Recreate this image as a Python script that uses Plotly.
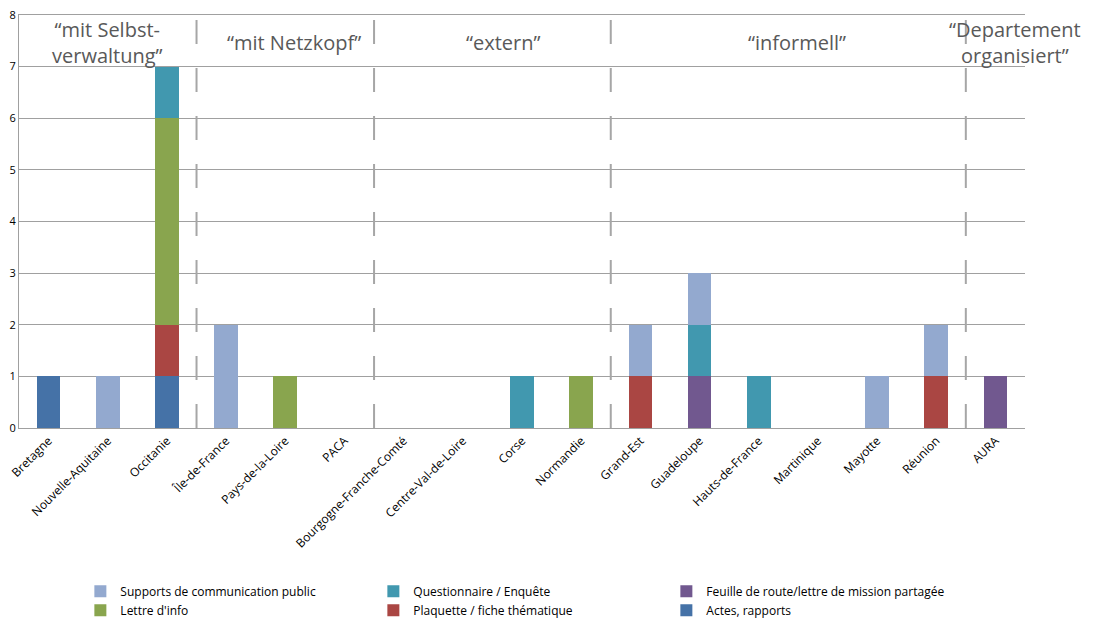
import plotly.graph_objects as go

regions = ["Bretagne", "Nouvelle-Aquitaine", "Occitanie", "Île-de-France", "Pays-de-la-Loire",
           "PACA", "Bourgogne-Franche-Comté", "Centre-Val-de-Loire", "Corse", "Normandie",
           "Grand-Est", "Guadeloupe", "Hauts-de-France", "Martinique", "Mayotte", "Réunion", "AURA"]

# series, bottom of the stack first
actes = [1, 0, 1, 0, 0, 0, 0, 0, 0, 0, 0, 0, 0, 0, 0, 0, 0]
plaquette = [0, 0, 1, 0, 0, 0, 0, 0, 0, 0, 1, 0, 0, 0, 0, 1, 0]
lettre = [0, 0, 4, 0, 1, 0, 0, 0, 0, 1, 0, 0, 0, 0, 0, 0, 0]
feuille = [0, 0, 0, 0, 0, 0, 0, 0, 0, 0, 0, 1, 0, 0, 0, 0, 1]
questionnaire = [0, 0, 1, 0, 0, 0, 0, 0, 1, 0, 0, 1, 1, 0, 0, 0, 0]
supports = [0, 1, 0, 2, 0, 0, 0, 0, 0, 0, 1, 1, 0, 0, 1, 1, 0]

group_names = ["“mit Selbst-<br>verwaltung”", "“mit Netzkopf”", "“extern”",
               "“informell”", "“Departement<br>organisiert”"]
group_sizes = [3, 3, 4, 6, 1]

series = [
    ("Actes, rapports", actes, "#4572A7"),
    ("Plaquette / fiche thématique", plaquette, "#AA4643"),
    ("Lettre d'info", lettre, "#89A54E"),
    ("Feuille de route/lettre de mission partagée", feuille, "#71588F"),
    ("Questionnaire / Enquête", questionnaire, "#4198AF"),
    ("Supports de communication public", supports, "#93A9CF"),
]

fig = go.Figure()
for name, vals, col in series:
    fig.add_trace(go.Bar(x=regions, y=vals, name=name, marker=dict(color=col, line=dict(width=0))))

# dashed separators between groups and group labels
label_shift = [0.0, 0.15, 0.18, 0.15, 0.33]
start = 0
for i, (gname, size) in enumerate(zip(group_names, group_sizes)):
    end = start + size
    if i < len(group_sizes) - 1:
        fig.add_shape(type="line", xref="x", yref="paper", x0=end - 0.5, x1=end - 0.5, y0=0, y1=1,
                      line=dict(color="#a6a6a6", width=2, dash="24px,24px"), layer="above")
    center = (start + end - 1) / 2 + label_shift[i]
    fig.add_annotation(x=center, y=7.46, xref="x", yref="y", text=gname, showarrow=False,
                       font=dict(family="Open Sans", size=20, color="#595959"),
                       yanchor="middle", align="center")
    start = end

# page body has an 8px margin, so the figure is sized to fit the window
fig.update_layout(
    barmode="stack",
    bargap=0.6,
    width=1087,
    height=614,
    margin=dict(l=11, r=70, t=7, b=194, autoexpand=False),
    plot_bgcolor="white",
    paper_bgcolor="white",
    font=dict(family="Open Sans", size=12, color="#000"),
    showlegend=True,
    legend=dict(
        orientation="h",
        traceorder="reversed",
        x=0.061, xanchor="left",
        y=-0.36, yanchor="top",
        entrywidth=248, entrywidthmode="pixels",
        font=dict(size=12),
        itemwidth=30,
        tracegroupgap=0,
    ),
)
fig.update_yaxes(range=[0, 8], dtick=1, showgrid=True, gridcolor="#a0a0a0", gridwidth=1,
                 showline=True, linecolor="#a0a0a0", zeroline=False, automargin=False,
                 ticklabelstandoff=0, ticklabeloverflow="allow", tickfont=dict(size=11))
fig.update_xaxes(range=[-0.5, len(regions) - 0.5], tickangle=-45, showline=True, mirror=True,
                 linecolor="#a0a0a0", automargin=False, tickfont=dict(size=12))

fig.write_html("out.html")
